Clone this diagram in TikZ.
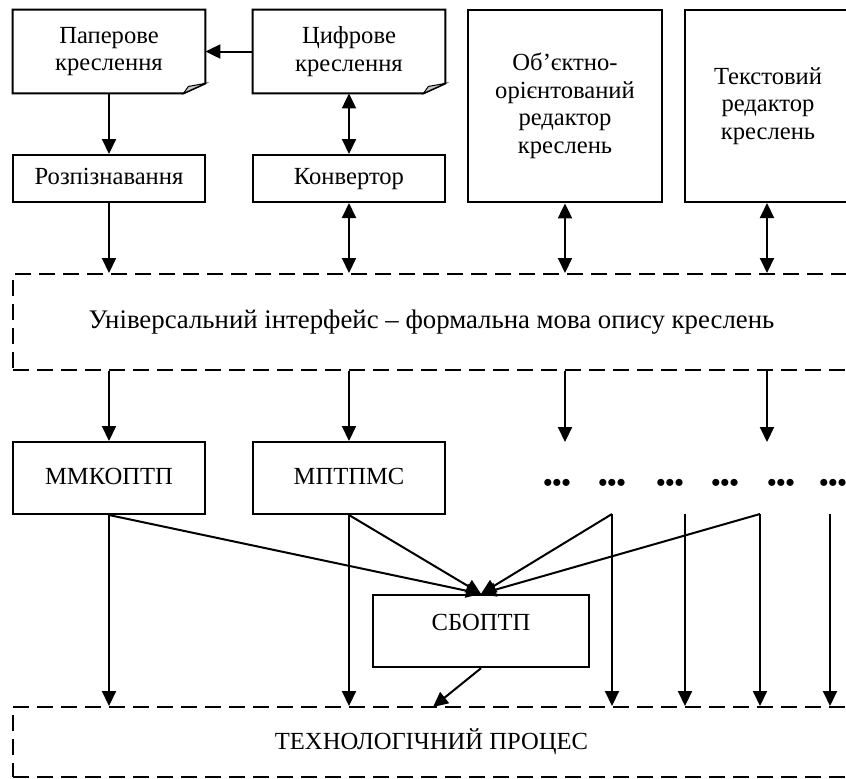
\documentclass[tikz,border=0pt]{standalone}
\usepackage{fontspec}
\setmainfont{Liberation Serif}
\usetikzlibrary{arrows.meta}

\tikzset{
  blok/.style={inner sep=0pt, align=center, minimum width=96pt, font=\fontsize{12.3}{13.8}\selectfont},
  ramka/.style={blok, draw, line width=1pt},
  ryadok/.style={ramka, text height=8.5pt, text depth=2.5pt},
  tovsta/.style={blok, draw, line width=1.4pt},
  punktyr/.style={blok, draw, line width=1pt, dash pattern=on 8pt off 4pt},
  strilka/.style={line width=1pt, -{Triangle[length=7.5pt,width=7pt]}},
  dvi/.style={line width=1pt, {Triangle[length=7.5pt,width=7pt]}-{Triangle[length=7.5pt,width=7pt]}},
  krapky/.style={inner sep=0pt, font=\fontsize{13}{13}\selectfont\bfseries},
}

\begin{document}
\begin{tikzpicture}[x=0.5pt, y=-0.5pt]

 % --- МЕЖІ РИСУНКА ---
 \clip (0,0) rectangle (846,778);

 % --- ВЕРХНІЙ РЯД ---
 % документи (креслення) з загнутим кутом
 \node[blok, minimum height=41.5pt] (paper) at (109,51.5) {Паперове\\креслення};
 \node[blok, minimum height=41.5pt] (digit) at (349,51.5) {Цифрове\\креслення};
 \foreach \d in {paper,digit} {
   \draw[line width=1pt] (\d.north west) -- (\d.north east) -- ([yshift=5pt]\d.south east)
     -- ([xshift=-11pt]\d.south east) -- (\d.south west) -- cycle;
   \filldraw[line width=0.5pt, fill=gray!45] ([xshift=-11pt]\d.south east) -- ([yshift=5pt]\d.south east)
     -- ([xshift=-8.5pt,yshift=3.5pt]\d.south east) -- cycle;
 }

 % редактори креслень
 \node[tovsta, minimum width=97pt, minimum height=96pt] (obj) at (565,106) {Об’єктно-\\орієнтований\\редактор\\креслень};
 \node[ramka, minimum width=83pt, minimum height=96pt] (text) at (768,106) {Текстовий\\редактор\\креслень};

 \node[ryadok, minimum height=23.5pt] (rozp) at (109,178.5) {Розпізнавання};
 \node[ryadok, minimum height=23.5pt] (konv) at (349,178.5) {Конвертор};

 % --- УНІВЕРСАЛЬНИЙ ІНТЕРФЕЙС ---
 \node[punktyr, minimum width=418.5pt, minimum height=48pt, font=\fontsize{13.4}{15}\selectfont] (inter) at (431.5,322)
   {Універсальний інтерфейс – формальна мова опису креслень};

 % --- МОДУЛІ ---
 \node[ryadok, minimum height=36pt] (mmk) at (109,478) {ММКОПТП};
 \node[ryadok, minimum height=36pt] (mptp) at (349,478) {МПТПМС};

 % крапки (інші модулі)
 \foreach \x [count=\i] in {557,612,670,725,781,833}
   \node[krapky] (d\i) at (\x,485) {•••};

 \node[blok, draw, line width=1.2pt, minimum width=108pt, minimum height=36pt, text depth=9pt] (sb) at (481,631) {СБОПТП};

 % --- ТЕХНОЛОГІЧНИЙ ПРОЦЕС ---
 \node[punktyr, minimum width=418.5pt, minimum height=35pt] (tech) at (431.5,742) {ТЕХНОЛОГІЧНИЙ ПРОЦЕС};

 % точки для стрілок
 \coordinate (k3) at (565,442);
 \coordinate (k4) at (767,442);
 \coordinate (v1) at (612,514);
 \coordinate (v2) at (685,514);
 \coordinate (v3) at (760,514);
 \coordinate (v4) at (830,514);
 \coordinate (t0) at (433,707);

 % --- СТРІЛКИ ---
 \draw[strilka] (digit) -- (paper);
 \draw[strilka] (paper) -- (rozp);
 \draw[dvi] (digit) -- (konv);

 \draw[strilka] (rozp.south) -- (rozp.south |- inter.north);
 \draw[dvi] (konv.south) -- (konv.south |- inter.north);
 \draw[dvi] (obj.south) -- (obj.south |- inter.north);
 \draw[dvi] ([xshift=-0.5pt]text.south) -- ([xshift=-0.5pt]text.south |- inter.north);

 \draw[strilka] (mmk.north |- inter.south) -- (mmk.north);
 \draw[strilka] (mptp.north |- inter.south) -- (mptp.north);
 \draw[strilka] (k3 |- inter.south) -- (k3);
 \draw[strilka] (k4 |- inter.south) -- (k4);

 % до технологічного процесу
 \draw[strilka] (mmk.south) -- (mmk.south |- tech.north);
 \draw[strilka] (mptp.south) -- (mptp.south |- tech.north);
 \foreach \v in {v1,v2,v3,v4}
   \draw[strilka] (\v) -- (\v |- tech.north);

 % до СБОПТП
 \draw[strilka] (mmk.south) -- (sb.north);
 \draw[strilka] (mptp.south) -- (sb.north);
 \draw[strilka] (v1) -- (sb.north);
 \draw[strilka] (v3) -- (sb.north);
 \draw[strilka] (sb.south) -- (t0);

\end{tikzpicture}
\end{document}
